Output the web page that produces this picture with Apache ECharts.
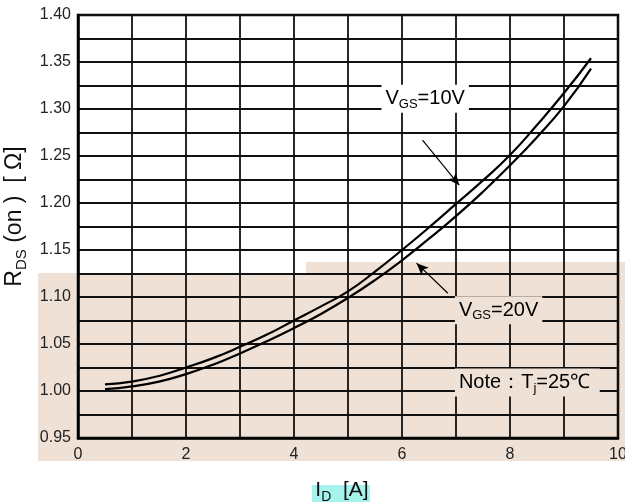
<!DOCTYPE html>
<html>
<head>
<meta charset="utf-8">
<script src="https://cdn.jsdelivr.net/npm/echarts@6/dist/echarts.min.js"></script>
<style>
html, body { margin: 0; padding: 0; background: #fff; }
#chart { width: 625px; height: 502px; }
</style>
</head>
<body>
<div id="chart"></div>
<script>
// drain current I_D [A]
var current = [0.5, 1, 1.5, 2, 2.5, 3, 3.5, 4, 4.5, 5, 5.5, 6, 6.5, 7, 7.5, 8, 8.5, 9, 9.5];
// R_DS(on) for VGS = 10V (upper curve)
var rds10 = [1.007, 1.010, 1.016, 1.025, 1.035, 1.047, 1.060, 1.075, 1.090, 1.106, 1.127, 1.150, 1.174, 1.199, 1.224, 1.251, 1.283, 1.317, 1.354];
// R_DS(on) for VGS = 20V (lower curve)
var rds20 = [1.002, 1.005, 1.010, 1.018, 1.028, 1.040, 1.053, 1.067, 1.082, 1.099, 1.118, 1.139, 1.162, 1.186, 1.212, 1.240, 1.270, 1.303, 1.343];
var xTicks = [0, 2, 4, 6, 8, 10];
var yTicks = [0.95, 1.00, 1.05, 1.10, 1.15, 1.20, 1.25, 1.30, 1.35, 1.40];

var font = 'Liberation Sans, Arial, sans-serif';
var beige = '#efe1d5';

function pairs(xs, ys) {
	return xs.map(function (x, i) { return [x, ys[i]]; });
}

var chart = echarts.init(document.getElementById('chart'));

var options = {
	animation: false,
	grid: {
		left: 78, top: 15, right: 7, bottom: 64,
		outerBoundsMode: 'none', containLabel: false,
		show: true, borderColor: '#000', borderWidth: 2.5, backgroundColor: 'transparent'
	},
	xAxis: {
		type: 'value',
		min: xTicks[0], max: xTicks[xTicks.length - 1], interval: 2,
		name: '{a|I}{b|D}{a|  [A]}',
		nameLocation: 'middle', nameGap: 39,
		nameTextStyle: {
			padding: [0, 12, 0, 0],
			rich: {
				a: { fontFamily: font, fontSize: 21, color: '#111' },
				b: { fontFamily: font, fontSize: 14, color: '#111', padding: [13, 0, 0, 0] }
			}
		},
		axisLine: { show: true, lineStyle: { color: '#000', width: 2.5 } },
		axisTick: { show: false },
		axisLabel: { fontFamily: font, fontSize: 16, color: '#222', margin: 9 },
		splitLine: { show: true, lineStyle: { color: '#111', width: 1.8 } },
		minorTick: { show: false, splitNumber: 2 },
		minorSplitLine: { show: true, lineStyle: { color: '#111', width: 1.8 } }
	},
	yAxis: {
		type: 'value',
		min: yTicks[0], max: yTicks[yTicks.length - 1], interval: 0.05,
		name: '{a|R}{b|DS}{a| (on )  [ Ω]}',
		nameLocation: 'middle', nameGap: 45,
		nameTextStyle: {
			padding: [0, 0, 0, 20],
			rich: {
				a: { fontFamily: font, fontSize: 23, color: '#111' },
				b: { fontFamily: font, fontSize: 15, color: '#111', padding: [13, 0, 0, 0] }
			}
		},
		axisLine: { show: true, lineStyle: { color: '#000', width: 2.5 } },
		axisTick: { show: false },
		axisLabel: {
			fontFamily: font, fontSize: 16, color: '#222', margin: 7,
			formatter: function (v) { return v.toFixed(2); }
		},
		splitLine: { show: true, lineStyle: { color: '#111', width: 1.8 } },
		minorTick: { show: false, splitNumber: 2 },
		minorSplitLine: { show: true, lineStyle: { color: '#111', width: 1.8 } }
	},
	series: [
		{
			name: 'VGS=10V',
			type: 'line',
			smooth: true,
			symbol: 'none',
			lineStyle: { color: '#000', width: 2.2 },
			data: pairs(current, rds10),
			z: 3,
			markLine: {
				silent: true,
				symbol: ['none', 'arrow'],
				symbolSize: [8, 12],
				lineStyle: { color: '#000', width: 1.2, type: 'solid' },
				label: { show: false },
				data: [[{ coord: [6.38, 1.267] }, { coord: [7.06, 1.219] }]]
			}
		},
		{
			name: 'VGS=20V',
			type: 'line',
			smooth: true,
			symbol: 'none',
			lineStyle: { color: '#000', width: 2.2 },
			data: pairs(current, rds20),
			z: 3,
			markLine: {
				silent: true,
				symbol: ['none', 'arrow'],
				symbolSize: [8, 12],
				lineStyle: { color: '#000', width: 1.2, type: 'solid' },
				label: { show: false },
				data: [[{ coord: [6.85, 1.104] }, { coord: [6.27, 1.136] }]]
			}
		}
	]
};
chart.setOption(options);

// annotations placed in data space
var p10 = chart.convertToPixel({ gridIndex: 0 }, [5.62, 1.311]);
var p20 = chart.convertToPixel({ gridIndex: 0 }, [6.98, 1.086]);
var pNote = chart.convertToPixel({ gridIndex: 0 }, [6.98, 1.009]);

var labelRich = {
	a: { fontFamily: font, fontSize: 20, color: '#111', lineHeight: 22 },
	b: { fontFamily: font, fontSize: 13, color: '#111', padding: [11, 0, 0, 0] }
};

chart.setOption({
	graphic: [
		{ type: 'rect', z: -10, silent: true, shape: { x: 38, y: 273, width: 270, height: 188 }, style: { fill: beige } },
		{ type: 'rect', z: -10, silent: true, shape: { x: 306, y: 262, width: 319, height: 199 }, style: { fill: beige } },
		{ type: 'rect', z: -10, silent: true, shape: { x: 312, y: 485, width: 58, height: 17 }, style: { fill: '#a6f3ee' } },
		{
			type: 'text', z: 100, x: p10[0], y: p10[1],
			style: {
				text: '{a|V}{b|GS}{a|=10V}', rich: labelRich,
				backgroundColor: '#fff', padding: [2, 4, 2, 4],
				verticalAlign: 'middle'
			}
		},
		{
			type: 'text', z: 100, x: p20[0], y: p20[1],
			style: {
				text: '{a|V}{b|GS}{a|=20V}', rich: labelRich,
				backgroundColor: beige, padding: [2, 4, 2, 4],
				verticalAlign: 'middle'
			}
		},
		{
			type: 'text', z: 100, x: pNote[0], y: pNote[1],
			style: {
				text: '{a|Note：T}{b|j}{a|=25℃ }', rich: labelRich,
				backgroundColor: beige, padding: [2, 4, 2, 4],
				verticalAlign: 'middle'
			}
		}
	]
});
</script>
</body>
</html>
